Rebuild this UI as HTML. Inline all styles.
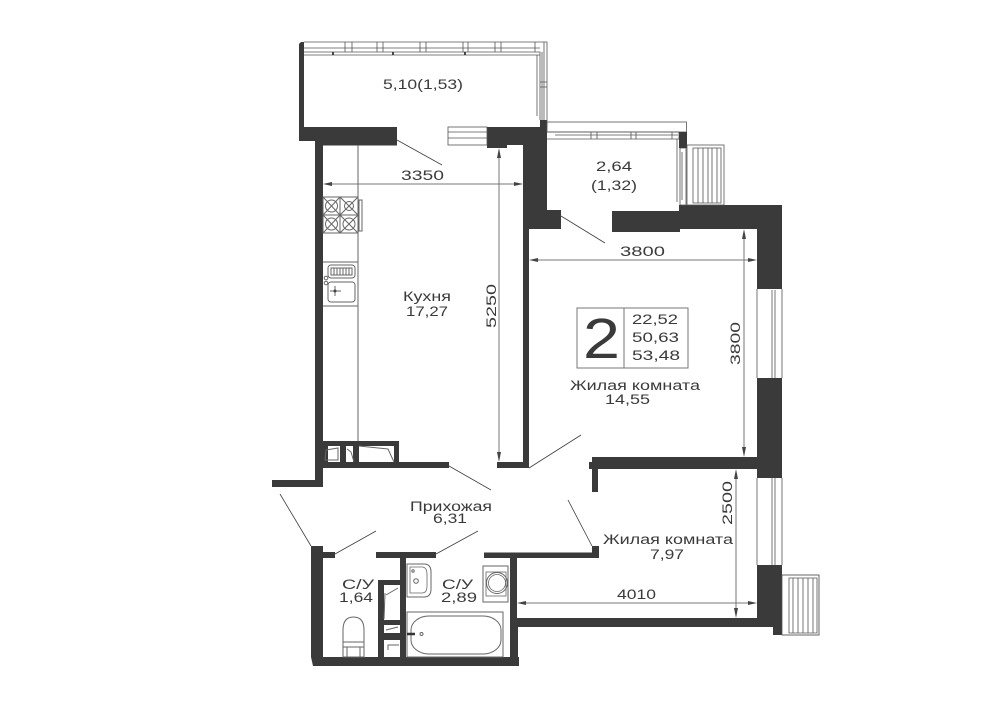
<!DOCTYPE html>
<html><head><meta charset="utf-8">
<style>
html,body{margin:0;padding:0;background:#fff;width:1000px;height:707px;overflow:hidden}
svg{display:block}
text{font-family:"Liberation Sans",sans-serif;font-size:13.5px;fill:#3a3a3a}
.w{fill:#3a3a3a}
.t{fill:none;stroke:#555;stroke-width:.8}
.f{fill:none;stroke:#666;stroke-width:1}
.d{stroke:#3f3f3f;stroke-width:.8;fill:none}
.m{stroke:#777;stroke-width:1;fill:none}
.a{fill:#444}
</style></head><body>
<svg width="1000" height="707" viewBox="0 0 1000 707" xmlns="http://www.w3.org/2000/svg">
<!-- walls -->
<g class="w">
<path d="M301 42H304V127H397V145.500H323V141H299V44Z"/>
<path d="M315 141H323V480V487H272V480H315Z"/>
<path d="M487 127H540V120H547V210H561V229H529V468H497V462H523V145H507V148H487Z"/>
<path d="M612 211H679V205H782V289H757V229H680V232H612Z"/>
<rect x="757" y="378" width="25" height="100"/>
<rect x="592" y="457" width="165" height="12"/>
<rect x="589" y="462" width="4" height="7"/>
<rect x="592" y="469" width="6" height="23"/>
<!-- lower walls -->
<rect x="311" y="546" width="12" height="111"/>
<rect x="320" y="552" width="15" height="6"/>
<path d="M311 657H519V666H313Z"/>
<rect x="510" y="553" width="7" height="104"/>
<rect x="510" y="627" width="8" height="30"/>
<rect x="484" y="552.500" width="115" height="5.500"/>
<rect x="592" y="546" width="7" height="12"/>
<rect x="517" y="618" width="240" height="9"/>
<rect x="757" y="565" width="25" height="62"/>
<rect x="773" y="627" width="9" height="8"/>
<rect x="376" y="552" width="60" height="6"/>
<rect x="400" y="558" width="6" height="99"/>
<rect x="378" y="580" width="22" height="5"/>
<rect x="378" y="580" width="6" height="77"/>
<rect x="384" y="620" width="16" height="5"/>
<rect x="384" y="633" width="16" height="7"/>
<!-- shaft -->
<path d="M323 441H399V462H449V468H323ZM328 446V462H340V446ZM346 446V462H353V446ZM359 446V462H394V446Z" fill-rule="evenodd"/>
</g>
<!-- balcony window -->
<g class="t">
<path d="M304 42H547V127M304 48H540M304 52H540V120M304 55H540"/>
<path d="M345 42V52M352 42V52M377 42V52M383 42V52M420 42V52M426 42V52M463 42V52M468 42V52M495 42V52M501 42V52M535 42V52"/>
<path d="M537 55V116M542 52V120M544 42V120M540 82H547M540 87H547"/>
<rect x="448" y="127" width="39" height="18"/>
<path d="M448 132H487M448 138H487"/>
</g>
<g class="a"><rect x="332" y="52" width="2" height="3"/><rect x="392" y="52" width="2" height="3"/><rect x="464" y="52" width="2" height="3"/></g>
<!-- loggia -->
<g class="t">
<rect x="547" y="122" width="139.500" height="10"/>
<path d="M547 132H679V139H547M555 135H678M591 132V139M597 132V139M631 132V139M636 132V139M672 132V139"/>
<path d="M677 139V202"/>
<path d="M680 148H686V205H680ZM682 152V200"/>
</g>
<rect x="679" y="132" width="8" height="16" class="w"/>
<!-- AC units -->
<g class="t" stroke-width="1">
<rect x="687" y="145" width="37" height="60"/>
<path d="M693 148H721V203H693ZM698 148V203M703 148V203M708 148V203M712 148V203M717 148V203"/>
<rect x="782" y="575" width="37" height="60"/>
<path d="M789 578H817V633H789ZM793 578V633M798 578V633M803 578V633M808 578V633M813 578V633"/>
</g>
<path d="M782 575H819V635H782" class="f" stroke="#333"/>
<!-- right windows -->
<g class="t">
<path d="M757 289V378M782 289V378M772 290V378M775 290V378"/>
<path d="M757 478V565M782 478V565M772 478V565M775 478V565"/>
</g>
<!-- door swings -->
<g class="d">
<path d="M397 140L442 165"/>
<path d="M561 216L605 243"/>
<path d="M449 466L491 490"/>
<path d="M280 494L311 546"/>
<path d="M335 554L376 531"/>
<path d="M436 554L478 531"/>
<path d="M529 468L581 435"/>
<path d="M568 500L592 546"/>
</g>
<!-- kitchen -->
<g class="f">
<path d="M358 145V441"/>
<path d="M323 197H358V233H323ZM340 197V233M323 215H358M323 197L340 215M340 197L323 215M340 197L358 215M358 197L340 215M323 215L340 233M340 215L323 233M340 215L358 233M358 215L340 233"/>
<circle cx="331.500" cy="206" r="6"/><circle cx="349" cy="206" r="4.500"/><circle cx="331.500" cy="224" r="6"/><circle cx="349" cy="224" r="6"/>
<rect x="359" y="200" width="3" height="31"/>
<path d="M323 262H358"/>
<rect x="328" y="265" width="27" height="13" rx="3"/>
<path d="M331 268H352V275H331ZM334 268V275M337 268V275M340 268V275M343 268V275M346 268V275M349 268V275"/>
<rect x="328" y="282" width="27" height="20" rx="3"/>
<path d="M330 291H341M335 286V296"/>
<circle cx="326" cy="278" r="1.800"/><circle cx="326" cy="283" r="1.800"/>
<path d="M323 306H358"/>
</g>
<circle cx="335" cy="291" r="1.500" class="a"/>
<!-- shaft details -->
<g class="f" stroke-width="1.500">
<path d="M326 450L338 448V460H325Z"/>
<path d="M347 449L351 452L354 462"/>
<path d="M359 446L388 449L394 462"/>
</g>
<!-- bathroom -->
<g class="f">
<path d="M407 564H424Q431 564 431 572V589Q431 597 424 597H407Z"/>
<path d="M410 567H423Q427 568 427 574V586Q427 593 422 593H410Z" stroke-width=".8"/>
<circle cx="416" cy="581" r="2.300"/>
<circle cx="413" cy="571" r="1.200"/>
<rect x="483" y="566" width="25" height="36"/>
<rect x="486" y="572" width="20" height="24" stroke-width=".8"/>
<circle cx="497" cy="583" r="10.500"/>
<circle cx="497" cy="583" r="8.500" stroke-width=".8"/>
<rect x="407" y="612" width="96" height="45"/>
<rect x="411" y="616" width="90" height="38" rx="18" ry="14"/>
<circle cx="421.500" cy="634" r="1.500"/>
<path d="M343 642V630Q343 617 353.500 617Q364 617 364 630V642"/>
<rect x="343" y="642" width="21" height="15"/>
<path d="M343 647H364M347 647V657M360 647V657"/>
<path d="M386 595L398 588M385 593L384 619M386 630L398 627M388 650V645H399"/>
</g>
<path d="M407 634H415" stroke="#333" stroke-width="2.500"/>
<!-- dimension lines -->
<g class="m">
<path d="M325 184H522"/><path d="M499 150V460"/>
<path d="M531 260H755"/><path d="M744 231V455"/>
<path d="M736 471V616"/><path d="M519 603H755"/>
</g>
<g class="a">
<path d="M323 184L332 182V186ZM523 184L514 182V186Z"/>
<path d="M499 148L497 158H501ZM499 462L497 452H501Z"/>
<path d="M529 260L538 258V262ZM757 260L748 258V262Z"/>
<path d="M744 229L742 239H746ZM744 457L742 447H746Z"/>
<path d="M736 469L734 479H738ZM736 618L734 608H738Z"/>
<path d="M517 603L526 601V605ZM757 603L748 601V605Z"/>
</g>
<!-- summary box -->
<rect x="577" y="308" width="111" height="60" fill="none" stroke="#777" stroke-width="1"/>
<path d="M624 308V368" stroke="#777" stroke-width="1"/>
<text x="583" y="358" style="font-size:57px" textLength="37" lengthAdjust="spacingAndGlyphs">2</text>
<!-- labels -->
<g>
<text x="383" y="89" textLength="80" lengthAdjust="spacingAndGlyphs">5,10(1,53)</text>
<text x="401" y="180" textLength="43" lengthAdjust="spacingAndGlyphs">3350</text>
<text x="596" y="171" textLength="36" lengthAdjust="spacingAndGlyphs">2,64</text>
<text x="591" y="190" textLength="46" lengthAdjust="spacingAndGlyphs">(1,32)</text>
<text x="620" y="256" textLength="45" lengthAdjust="spacingAndGlyphs">3800</text>
<text x="403" y="301" textLength="48" lengthAdjust="spacingAndGlyphs">Кухня</text>
<text x="406" y="316" textLength="42" lengthAdjust="spacingAndGlyphs">17,27</text>
<text x="632" y="324" textLength="46" lengthAdjust="spacingAndGlyphs">22,52</text>
<text x="632" y="342" textLength="47" lengthAdjust="spacingAndGlyphs">50,63</text>
<text x="632" y="360" textLength="48" lengthAdjust="spacingAndGlyphs">53,48</text>
<text x="570" y="390" textLength="130" lengthAdjust="spacingAndGlyphs">Жилая комната</text>
<text x="605" y="404" textLength="45" lengthAdjust="spacingAndGlyphs">14,55</text>
<text x="603" y="544" textLength="130" lengthAdjust="spacingAndGlyphs">Жилая комната</text>
<text x="650" y="559" textLength="34" lengthAdjust="spacingAndGlyphs">7,97</text>
<text x="617" y="599" textLength="39" lengthAdjust="spacingAndGlyphs">4010</text>
<text x="410" y="511" textLength="82" lengthAdjust="spacingAndGlyphs">Прихожая</text>
<text x="433" y="523" textLength="34" lengthAdjust="spacingAndGlyphs">6,31</text>
<text x="342" y="589" textLength="32" lengthAdjust="spacingAndGlyphs">С/У</text>
<text x="339" y="602" textLength="34" lengthAdjust="spacingAndGlyphs">1,64</text>
<text x="442" y="589" textLength="31" lengthAdjust="spacingAndGlyphs">С/У</text>
<text x="441" y="602" textLength="36" lengthAdjust="spacingAndGlyphs">2,89</text>
<text transform="translate(496 328) rotate(-90)" textLength="44" lengthAdjust="spacingAndGlyphs">5250</text>
<text transform="translate(740 365) rotate(-90)" textLength="43" lengthAdjust="spacingAndGlyphs">3800</text>
<text transform="translate(732 525) rotate(-90)" textLength="44" lengthAdjust="spacingAndGlyphs">2500</text>
</g>
</svg>
</body></html>
